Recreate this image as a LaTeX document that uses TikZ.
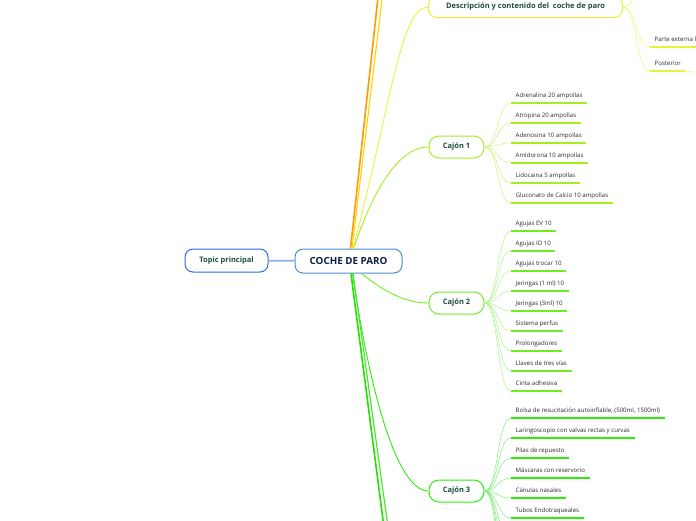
\documentclass[tikz,border=0pt]{standalone}
\usepackage{fontspec}
\setmainfont{Open Sans}
\definecolor{txtgreen}{HTML}{1E4D3F}
\definecolor{txtnavy}{HTML}{0B1F45}
\definecolor{leaftxt}{HTML}{2A2A2A}
\definecolor{bluedark}{HTML}{2F6AE8}
\definecolor{bluemain}{HTML}{4A8FD4}
\definecolor{bluelink}{HTML}{8AB0F0}
\definecolor{descyel}{HTML}{E6F33A}
\definecolor{descline}{HTML}{EEF56A}
\definecolor{lineA}{HTML}{A6EE22}
\definecolor{twigA}{HTML}{C8F57A}
\definecolor{lineB}{HTML}{6EEE22}
\definecolor{twigB}{HTML}{A8F58A}
\definecolor{lineC}{HTML}{2AEE0A}
\definecolor{twigC}{HTML}{80F07A}
\definecolor{branchOr}{HTML}{FF9A00}
\definecolor{branchGold}{HTML}{FFD200}
\definecolor{branchGreen}{HTML}{22E000}

\tikzset{
  topicbox/.style={draw, fill=white, rounded corners=8pt, line width=1pt,
    inner sep=0pt, font=\bfseries\fontsize{7.5}{8}\selectfont, text=txtgreen},
  leaf/.style={anchor=south west, inner xsep=4.5pt, inner ysep=3.5pt,
    text height=4.3pt, text depth=1.5pt, font=\fontsize{6.1}{7}\selectfont, text=leaftxt},
  twig/.style={line width=0.5pt, draw=#1},
  uline/.style={line width=1.5pt, draw=#1},
}

\begin{document}
\begin{tikzpicture}[x=1pt, y=-1pt]
    \useasboundingbox (0,0) rectangle (696,520);
    \clip (0,0) rectangle (696,520);

    % ramas que salen del marco
    \coordinate (upOr) at (381,-30);
    \coordinate (upGold) at (385.6,-30);
    \coordinate (downA) at (385.6,540);
    \coordinate (downB) at (389.8,540);
    \coordinate (descup) at (648,-20);
    \coordinate (postchild) at (712,74);

    % 1. nodos principales
    \node[topicbox, draw=bluedark, minimum width=83pt, minimum height=23pt] (topic) at (226.5,260.5) {Topic principal};
    \node[topicbox, draw=bluemain, minimum width=107pt, minimum height=24pt,
      font=\bfseries\fontsize{9.8}{10}\selectfont, text=txtnavy] (main) at (348.5,261) {COCHE DE PARO};
    \node[topicbox, draw=descyel, minimum width=194pt, minimum height=21pt] (desc) at (525.5,7) {Descripción y contenido del\ \ coche de paro};
    \node[topicbox, draw=lineA, rounded corners=10pt, minimum width=55pt, minimum height=22pt] (cajon1) at (456.5,147) {Cajón 1};
    \node[topicbox, draw=lineB, rounded corners=10pt, minimum width=55pt, minimum height=22pt] (cajon2) at (456.5,303) {Cajón 2};
    \node[topicbox, draw=lineC, rounded corners=10pt, minimum width=55pt, minimum height=22pt] (cajon3) at (456.5,491) {Cajón 3};

    \draw[line width=1.8pt, bluelink] (topic) -- (main);

    % 2. ramas del tema central
    \draw[line width=1.6pt, branchOr] ([xshift=2pt]main.north) -- (upOr);
    \draw[line width=1.1pt, branchGold] ([xshift=3.5pt]main.north) -- (upGold);
    \draw[line width=0.9pt, descyel] ([xshift=4.5pt]main.north) .. controls (390,110) and (400,7) .. (desc.west);
    \draw[line width=0.9pt, lineA] ([xshift=5pt]main.north) .. controls (370,200) and (395,147) .. (cajon1.west);
    \draw[line width=0.9pt, lineB] ([xshift=13pt]main.south) .. controls (385,292) and (405,303) .. (cajon2.west);
    \draw[line width=0.9pt, lineC] ([xshift=4pt]main.south) .. controls (368,380) and (395,491) .. (cajon3.west);
    \draw[line width=1.6pt, branchGreen] ([xshift=2.5pt]main.south) -- (downA);
    \draw[line width=1.2pt, branchGreen!80] ([xshift=4.5pt]main.south) -- (downB);

    % 3. descripción
    \node[leaf] (parte) at (650,47) {Parte externa l};
    \node[leaf] (posterior) at (650,71) {Posterior};
    \draw[twig=descline] (desc.east) .. controls +(14,0) and +(-14,0) .. (descup);
    \foreach \leafname in {parte, posterior} {
        \draw[twig=descline] (desc.east) .. controls +(14,0) and +(-14,0) .. (\leafname.south west);
    }
    \draw[uline=descyel] (parte.south west) -- ++(60,0);
    \draw[uline=descyel] (posterior.south west) -- (685,71);
    \draw[twig=descline] (685,71) -- (postchild);

    % 4. cajón 1
    \foreach \txt [count=\i] in {Adrenalina 20 ampollas, Atropina 20 ampollas,
        Adenosina 10 ampollas, Amidorona 10 ampollas, Lidocaina 5 ampollas,
        Gluconato de Calcio 10 ampollas} {
        \node[leaf] (ca\i) at (511,{83+20*\i}) {\txt};
        \draw[twig=twigA] (cajon1.east) .. controls +(14,0) and +(-14,0) .. (ca\i.south west);
        \draw[uline=lineA] (ca\i.south west) -- (ca\i.south east);
    }

    % 5. cajón 2
    \foreach \txt [count=\i] in {Agujas EV 10, Agujas ID 10, Agujas trocar 10,
        Jeringas (1 ml) 10, Jeringas (3ml) 10, Sistema perfus, Prolongadores,
        Llaves de tres vías, Cinta adhesiva} {
        \node[leaf] (cb\i) at (511,{211+20*\i}) {\txt};
        \draw[twig=twigB] (cajon2.east) .. controls +(14,0) and +(-14,0) .. (cb\i.south west);
        \draw[uline=lineB] (cb\i.south west) -- (cb\i.south east);
    }

    % 6. cajón 3 (sigue fuera del marco)
    \foreach \txt [count=\i] in {{Bolsa de resucitación autoinflable, (500ml, 1500ml)},
        Laringoscopio con valvas rectas y curvas, Pilas de repuesto,
        Máscaras con reservorio, Cánulas nasales, Tubos Endotraqueales} {
        \node[leaf] (cc\i) at (511,{398+20*\i}) {\txt};
        \draw[twig=twigC] (cajon3.east) .. controls +(14,0) and +(-14,0) .. (cc\i.south west);
        \draw[uline=lineC] (cc\i.south west) -- (cc\i.south east);
    }
    \foreach \i in {7,...,10} {
        \coordinate (cc\i) at (511,{398+20*\i});
        \draw[twig=twigC] (cajon3.east) .. controls +(14,0) and +(-14,0) .. (cc\i);
    }

\end{tikzpicture}
\end{document}
